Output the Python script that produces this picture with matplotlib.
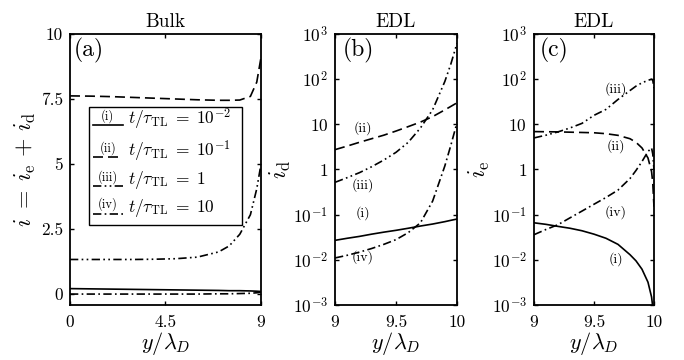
import matplotlib
matplotlib.use("Agg")
import matplotlib.pyplot as plt
from matplotlib.ticker import FixedLocator, FixedFormatter, NullLocator

plt.rcParams["font.family"] = "serif"
plt.rcParams["font.serif"] = ["cmr10", "DejaVu Serif"]
plt.rcParams["mathtext.fontset"] = "cm"
plt.rcParams["axes.unicode_minus"] = False
plt.rcParams["axes.formatter.use_mathtext"] = True

# ---- data ----
# (a) bulk
y_bulk = [0, 1, 2, 3, 4, 5, 6, 7, 7.5, 8, 8.5, 8.8, 9]
bulk_i = [0.21, 0.20, 0.19, 0.18, 0.17, 0.16, 0.15, 0.14, 0.13, 0.13, 0.12, 0.11, 0.10]
bulk_ii = [7.62, 7.61, 7.59, 7.56, 7.53, 7.50, 7.47, 7.45, 7.45, 7.46, 7.60, 8.15, 9.10]
bulk_iii = [1.33, 1.33, 1.33, 1.33, 1.34, 1.36, 1.42, 1.62, 1.85, 2.30, 3.05, 4.05, 5.00]
bulk_iv = [0.0, 0.0, 0.0, 0.0, 0.0, 0.0, 0.0, 0.01, 0.01, 0.02, 0.03, 0.05, 0.07]

# (b) EDL, i_d
y_edl_d = [9.0, 9.1, 9.2, 9.3, 9.4, 9.5, 9.6, 9.7, 9.8, 9.9, 9.95, 10.0]
id_i = [0.027, 0.030, 0.033, 0.037, 0.041, 0.045, 0.050, 0.056, 0.062, 0.070, 0.075, 0.080]
id_ii = [2.75, 3.3, 4.0, 4.8, 5.75, 7.1, 8.9, 11.2, 14.8, 20.9, 25.0, 30.0]
id_iii = [0.52, 0.66, 0.85, 1.15, 1.62, 2.4, 4.0, 8.3, 21, 89, 220, 630]
id_iv = [0.011, 0.0126, 0.0148, 0.0178, 0.022, 0.028, 0.040, 0.066, 0.20, 1.2, 3.5, 11]

# (c) EDL, i_e
y_edl_e = [9.0, 9.1, 9.2, 9.3, 9.4, 9.5, 9.6, 9.7, 9.8, 9.85, 9.9, 9.95, 9.98, 9.99, 10.0]
ie_i = [0.066, 0.061, 0.055, 0.050, 0.044, 0.037, 0.030, 0.022, 0.013, 0.0095,
        0.0062, 0.0032, 0.0015, 0.0009, 0.00001]
ie_ii = [6.9, 6.85, 6.8, 6.7, 6.6, 6.5, 6.2, 5.7, 4.8, 4.0, 3.0, 1.8, 0.9, 0.5, 0.15]
ie_iii = [5.0, 5.75, 6.8, 8.3, 10.5, 15.8, 21.4, 35.5, 56, 70, 83, 94, 100, 95, 63]
ie_iv = [0.036, 0.047, 0.060, 0.085, 0.12, 0.17, 0.24, 0.35, 0.63, 0.95, 1.5, 2.5, 3.0, 2.2, 1.0]

labels = ["(i)", "(ii)", "(iii)", "(iv)"]
legend_texts = [r"$t/\tau_{\mathrm{TL}}\;=\;10^{-2}$", r"$t/\tau_{\mathrm{TL}}\;=\;10^{-1}$",
                r"$t/\tau_{\mathrm{TL}}\;=\;1$", r"$t/\tau_{\mathrm{TL}}\;=\;10$"]
styles = ["-", (0, (6, 3)), (0, (5, 2, 1, 2, 1, 2)), (0, (5, 2, 1, 2))]
lw = 1.2

log_ticks = [1e-3, 1e-2, 1e-1, 1, 10, 1e2, 1e3]
log_labels = ["$10^{-3}$", "$10^{-2}$", "$10^{-1}$", "$1$", "$10$", "$10^{2}$", "$10^{3}$"]

fig = plt.figure(figsize=(6.84, 3.6), dpi=100)
ax_a = fig.add_axes([0.1023, 0.1528, 0.2793, 0.7528])
ax_b = fig.add_axes([0.4898, 0.1528, 0.1784, 0.7528])
ax_c = fig.add_axes([0.7807, 0.1528, 0.1754, 0.7528])

for ax in (ax_a, ax_b, ax_c):
    for s in ax.spines.values():
        s.set_linewidth(1.3)
    ax.tick_params(direction="in", length=3, width=1, top=True, right=True,
                   labelsize=12.5, pad=5)
    ax.tick_params(axis="x", pad=7)
    ax.set_xlabel(r"$y/\lambda_D$", fontsize=16, labelpad=0)

# ---- (a) ----
for vals, ls in zip([bulk_i, bulk_ii, bulk_iii, bulk_iv], styles):
    ax_a.plot(y_bulk, vals, color="k", lw=lw, linestyle=ls)
ax_a.set_xlim(0, 9)
ax_a.set_ylim(-0.42, 10)
ax_a.set_xticks([0, 4.5, 9])
ax_a.set_xticklabels(["0", "4.5", "9"])
ax_a.set_yticks([0, 2.5, 5, 7.5, 10])
ax_a.set_yticklabels(["0", "2.5", "5", "7.5", "10"])
ax_a.set_ylabel(r"$i\;=\;i_{\mathrm{e}}\,+\,i_{\mathrm{d}}$", fontsize=17, labelpad=2)
ax_a.set_title("Bulk", fontsize=14, pad=5)
ax_a.text(0.02, 0.985, "(a)", transform=ax_a.transAxes, fontsize=17, va="top", ha="left")

# manual legend box
box = plt.Rectangle((0.1, 0.295), 0.8, 0.436, transform=ax_a.transAxes,
                    fill=True, facecolor="white", edgecolor="k", lw=1.0, zorder=5)
ax_a.add_patch(box)
rows = [0.665, 0.545, 0.44, 0.337]
for yr, ls, lab, txt in zip(rows, styles, labels, legend_texts):
    ax_a.plot([0.12, 0.277], [yr, yr], transform=ax_a.transAxes, color="k", lw=lw,
              linestyle=ls, zorder=6)
    ax_a.text(0.198, yr + 0.008, lab, transform=ax_a.transAxes, fontsize=9,
              ha="center", va="bottom", zorder=6)
    ax_a.text(0.305, yr + 0.02, txt, transform=ax_a.transAxes, fontsize=12.5,
              ha="left", va="center", zorder=6)

# ---- (b) ----
for vals, ls in zip([id_i, id_ii, id_iii, id_iv], styles):
    ax_b.plot(y_edl_d, vals, color="k", lw=lw, linestyle=ls)
ax_b.set_title("EDL", fontsize=14, pad=5)
ax_b.text(0.06, 0.985, "(b)", transform=ax_b.transAxes, fontsize=17, va="top", ha="left")
ax_b.set_ylabel(r"$i_{\mathrm{d}}$", fontsize=17, labelpad=0)
for lab, xx, yy in zip(labels, [9.23, 9.23, 9.23, 9.23], [0.11, 8.3, 0.45, 0.0115]):
    ax_b.text(xx, yy, lab, fontsize=10, ha="center", va="center")

# ---- (c) ----
for vals, ls in zip([ie_i, ie_ii, ie_iii, ie_iv], styles):
    ax_c.plot(y_edl_e, vals, color="k", lw=lw, linestyle=ls)
ax_c.set_title("EDL", fontsize=14, pad=5)
ax_c.text(0.05, 0.985, "(c)", transform=ax_c.transAxes, fontsize=17, va="top", ha="left")
ax_c.set_ylabel(r"$i_{\mathrm{e}}$", fontsize=17, labelpad=0)
for lab, xx, yy in zip(labels, [9.68, 9.68, 9.68, 9.68], [0.0105, 3.3, 60, 0.115]):
    ax_c.text(xx, yy, lab, fontsize=10, ha="center", va="center")

for ax in (ax_b, ax_c):
    ax.set_yscale("log")
    ax.set_xlim(9, 10)
    ax.set_ylim(1e-3, 1e3)
    ax.yaxis.set_major_locator(FixedLocator(log_ticks))
    ax.yaxis.set_major_formatter(FixedFormatter(log_labels))
    ax.yaxis.set_minor_locator(NullLocator())
    ax.set_xticks([9, 9.5, 10])
    ax.set_xticklabels(["9", "9.5", "10"])

fig.savefig("out.png", dpi=100)
